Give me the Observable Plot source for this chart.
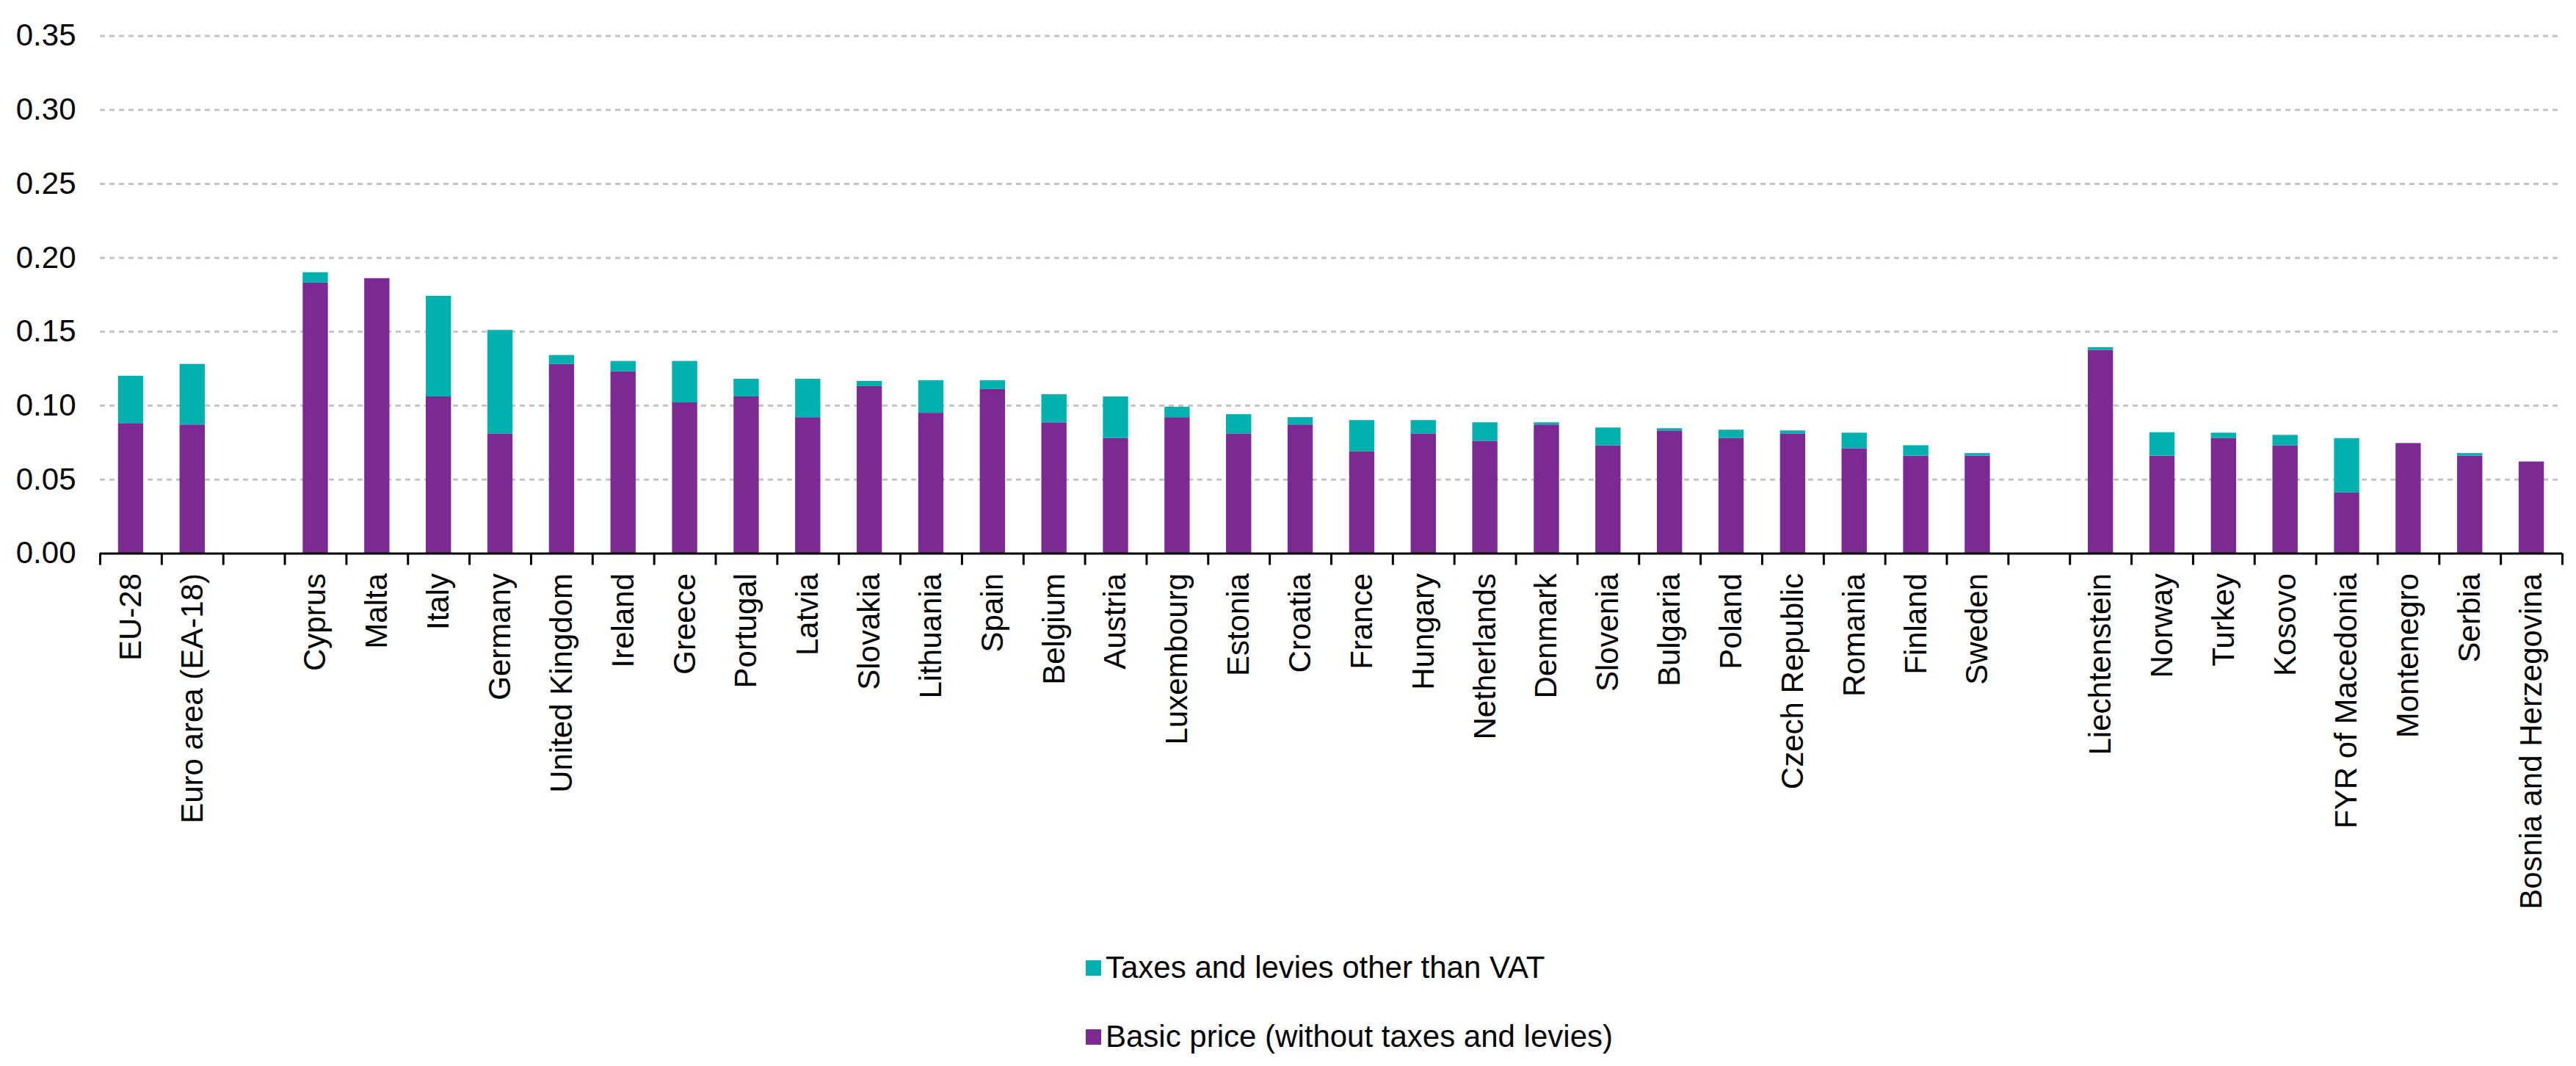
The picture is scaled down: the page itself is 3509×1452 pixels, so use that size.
<!DOCTYPE html>
<html><head><meta charset="utf-8">
<script src="https://cdn.jsdelivr.net/npm/d3@7"></script>
<script src="https://cdn.jsdelivr.net/npm/@observablehq/plot@0.6"></script>
<style>
html,body{margin:0;padding:0;background:#fff;}
body{width:3509px;height:1452px;overflow:hidden;font-family:"Liberation Sans",Arial,sans-serif;}
#chart svg{display:block;}
#legend{position:relative;height:172px;}
.item{position:absolute;left:1479px;display:flex;align-items:center;font-size:42px;line-height:48px;color:#000;white-space:nowrap;}
.sw{width:21px;height:21px;margin-right:6px;flex:none;}
</style></head><body><div id="chart"></div><div id="legend"></div>
<script>
const categories = ["EU-28","Euro area (EA-18)","gap1","Cyprus","Malta","Italy","Germany","United Kingdom","Ireland","Greece","Portugal","Latvia","Slovakia","Lithuania","Spain","Belgium","Austria","Luxembourg","Estonia","Croatia","France","Hungary","Netherlands","Denmark","Slovenia","Bulgaria","Poland","Czech Republic","Romania","Finland","Sweden","gap2","Liechtenstein","Norway","Turkey","Kosovo","FYR of Macedonia","Montenegro","Serbia","Bosnia and Herzegovina"];
const basicPrice = [0.088,0.087,null,0.183,0.186,0.106,0.081,0.128,0.123,0.102,0.106,0.092,0.113,0.095,0.111,0.0885,0.078,0.092,0.081,0.087,0.069,0.081,0.076,0.087,0.073,0.083,0.078,0.081,0.071,0.066,0.066,null,0.1375,0.066,0.078,0.073,0.041,0.0745,0.066,0.062];
const taxesLevies = [0.032,0.041,null,0.007,0,0.068,0.070,0.006,0.007,0.028,0.012,0.026,0.0035,0.022,0.006,0.019,0.028,0.007,0.013,0.005,0.021,0.009,0.0125,0.0015,0.012,0.0015,0.0055,0.002,0.0105,0.007,0.0017,null,0.0018,0.0158,0.0035,0.007,0.0368,0,0.0017,0];
const seriesNames = ["Basic price (without taxes and levies)","Taxes and levies other than VAT"];
const seriesColors = ["#7b2a93","#00b0ad"];
const legendOrder = ["Taxes and levies other than VAT","Basic price (without taxes and levies)"];
const yTicks = [0,0.05,0.10,0.15,0.20,0.25,0.30,0.35];

const rows = [];
categories.forEach((c,i)=>{
  if (basicPrice[i] == null) return;
  rows.push({cat:c, series:seriesNames[0], value:basicPrice[i]});
  rows.push({cat:c, series:seriesNames[1], value:taxesLevies[i]});
});

const W = 3509, H = 1280, mL = 136, mR = 19, mT = 48.5, mB = H - 753.5;
const step = (W - mL - mR) / categories.length;

const chart = Plot.plot({
  width: W, height: H,
  marginLeft: mL, marginRight: mR, marginTop: mT, marginBottom: mB,
  style: {fontFamily: "Liberation Sans, Arial, sans-serif", fontSize: "42px", color: "#000", background: "#fff", overflow: "visible"},
  x: {domain: categories, paddingInner: 0.59, paddingOuter: 0.295, label: null},
  y: {domain: [0, 0.35], label: null},
  color: {domain: seriesNames, range: seriesColors},
  marks: [
    Plot.gridY(yTicks.filter(t => t > 0), {stroke: "#c4c4c4", strokeWidth: 3, strokeOpacity: 1, strokeDasharray: "7,6"}),
    Plot.axisY(yTicks, {tickSize: 0, tickPadding: 33, tickFormat: d => d.toFixed(2), label: null, fill: "#000"}),
    Plot.barY(rows, {x: "cat", y: "value", fill: "series"}),
    Plot.ruleY([0], {stroke: "#000", strokeWidth: 3}),
    Plot.axisX({tickSize: 16, tickFormat: () => "", dx: -step / 2, label: null, stroke: "#000", strokeWidth: 3}),
    Plot.axisX([categories[categories.length - 1]], {tickSize: 16, tickFormat: () => "", dx: step / 2, label: null, stroke: "#000", strokeWidth: 3}),
    Plot.axisX({tickSize: 0, tickPadding: 27, tickRotate: -90, tickFormat: d => d.startsWith("gap") ? "" : d, label: null, fill: "#000"})
  ]
});
document.getElementById("chart").appendChild(chart);

const legend = document.getElementById("legend");
legendOrder.forEach((name, i) => {
  const it = document.createElement("div");
  it.className = "item";
  it.style.top = (1318 - H - 24 + i * 94) + "px";
  const sw = document.createElement("span");
  sw.className = "sw";
  sw.style.background = seriesColors[seriesNames.indexOf(name)];
  const tx = document.createElement("span");
  tx.textContent = name;
  it.appendChild(sw); it.appendChild(tx);
  legend.appendChild(it);
});
</script></body></html>
